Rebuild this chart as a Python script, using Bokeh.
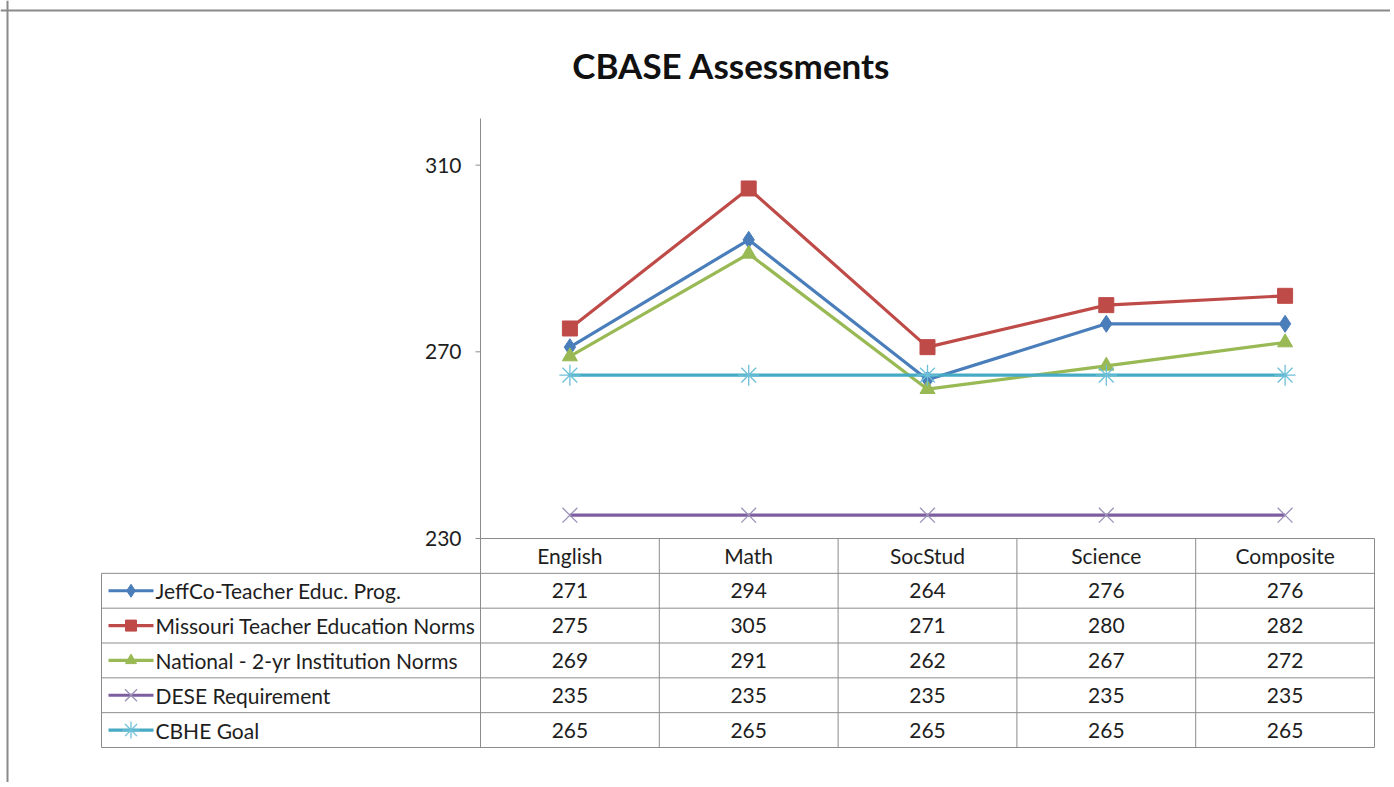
from bokeh.plotting import figure
from bokeh.models import Range1d, Span
from bokeh.core.properties import value
from bokeh.embed import file_html
from bokeh.resources import INLINE

# ---------------- data ----------------
categories = ["English", "Math", "SocStud", "Science", "Composite"]
jeffco = [271, 294, 264, 276, 276]
missouri = [275, 305, 271, 280, 282]
national = [269, 291, 262, 267, 272]
dese = [235, 235, 235, 235, 235]
cbhe = [265, 265, 265, 265, 265]
series_names = ["JeffCo-Teacher Educ. Prog.", "Missouri Teacher Education Norms",
                "National - 2-yr Institution Norms", "DESE Requirement", "CBHE Goal"]
yticks = [230, 270, 310]
title_text = "CBASE Assessments"

# ---------------- layout constants (pixels) ----------------
W, H = 1390, 782
PX0, PY0 = 0, 0
AX_PX = 480.0           # x pixel of value axis / first column edge
COL_PX = 178.8          # column width
Y230_PX = 538.0         # pixel of value 230
PX_PER_UNIT = 4.667     # pixels per score unit
TBL_BOTTOM_PX = 747.0
ROW_PX = 34.83

def xd(px):
    return (px - AX_PX) / COL_PX

def trow(py):
    return (TBL_BOTTOM_PX - py) / ROW_PX

x_range = Range1d(xd(PX0), xd(PX0 + W))
y_range = Range1d(230 - (PY0 + H - Y230_PX) / PX_PER_UNIT, 230 + (Y230_PX - PY0) / PX_PER_UNIT)

p = figure(width=W, height=H, x_range=x_range, y_range=y_range,
           output_backend="svg", toolbar_location=None,
           x_axis_location=None, y_axis_location=None,
           min_border=0, outline_line_color=None)
p.extra_y_ranges = {"tbl": Range1d(trow(PY0 + H), trow(PY0))}
p.xgrid.grid_line_color = None
p.ygrid.grid_line_color = None
p.background_fill_color = "white"
p.border_fill_color = "white"

FONT = value("Lato")
TXT = "#1e1e1e"
GRID = "#8c8c8c"
FS = "21px"

# outer chart border (left and top only visible)
p.add_layout(Span(location=xd(7), dimension="height", line_color="#8a8a8a", line_width=2))
p.add_layout(Span(location=trow(10), dimension="width", y_range_name="tbl", line_color="#8a8a8a", line_width=2))

# title
p.text(x=[xd(731)], y=[trow(64)], text=[title_text], y_range_name="tbl",
       text_font=FONT, text_font_style="bold", text_font_size="35px",
       text_align="center", text_baseline="middle", text_color="#111111")

# value axis (manual)
axis_top = 230 + (Y230_PX - 118) / PX_PER_UNIT
p.segment(x0=[0], y0=[230], x1=[0], y1=[axis_top], line_color=GRID, line_width=1)
p.segment(x0=[xd(AX_PX - 5)] * len(yticks), y0=yticks, x1=[0] * len(yticks), y1=yticks,
          line_color=GRID, line_width=1)
p.text(x=[xd(461)] * len(yticks), y=yticks, text=[str(t) for t in yticks],
       text_font=FONT, text_font_size=FS, text_align="right", text_baseline="middle",
       text_color=TXT)

# series
xs = [i + 0.5 for i in range(len(categories))]
all_series = [jeffco, missouri, national, dese, cbhe]
colors = ["#4A7EBB", "#BE4B48", "#98B954", "#7D5FA0", "#46AAC5"]
marker_specs = [
    dict(marker="diamond", size=17, fill_color="#4A7EBB", line_color="#4A7EBB", line_width=1),
    dict(marker="square", size=15, fill_color="#BE4B48", line_color="#BE4B48", line_width=1),
    dict(marker="triangle", size=15, fill_color="#98B954", line_color="#98B954", line_width=1),
    dict(marker="x", size=21, fill_color=None, line_color="#9C90B8", line_width=1.3),
    dict(marker="asterisk", size=21, fill_color=None, line_color="#6EC0D8", line_width=1.3),
]
for vals, col, ms in zip(all_series, colors, marker_specs):
    p.line(xs, vals, line_color=col, line_width=3.2)
    p.scatter(xs, vals, **ms)

# ---------------- data table ----------------
n_rows = len(series_names)
leg_left = xd(101)
for r in range(n_rows + 1):
    p.segment(x0=[leg_left], y0=[r], x1=[len(categories)], y1=[r],
              line_color=GRID, line_width=1, y_range_name="tbl")
p.segment(x0=[0], y0=[n_rows + 1], x1=[len(categories)], y1=[n_rows + 1],
          line_color=GRID, line_width=1, y_range_name="tbl")
p.segment(x0=[leg_left], y0=[0], x1=[leg_left], y1=[n_rows],
          line_color=GRID, line_width=1, y_range_name="tbl")
for c in range(len(categories) + 1):
    p.segment(x0=[c], y0=[0], x1=[c], y1=[n_rows + 1],
              line_color=GRID, line_width=1, y_range_name="tbl")

p.text(x=xs, y=[n_rows + 0.5] * len(categories), text=categories, y_range_name="tbl",
       text_font=FONT, text_font_size=FS, text_align="center", text_baseline="middle",
       text_color=TXT)
for k, (name, vals, col, ms) in enumerate(zip(series_names, all_series, colors, marker_specs)):
    yc = n_rows - 1 - k + 0.5
    p.text(x=xs, y=[yc] * len(vals), text=[str(v) for v in vals], y_range_name="tbl",
           text_font=FONT, text_font_size=FS, text_align="center", text_baseline="middle",
           text_color=TXT)
    p.text(x=[xd(155)], y=[yc], text=[name], y_range_name="tbl",
           text_font=FONT, text_font_size=FS, text_align="left", text_baseline="middle",
           text_color=TXT)
    p.line([xd(108), xd(153)], [yc, yc], line_color=col, line_width=3.2, y_range_name="tbl")
    sm = dict(ms)
    sm["size"] = sm["size"] - 4
    p.scatter([xd(130.5)], [yc], y_range_name="tbl", **sm)

open("out.html", "w").write(file_html(p, INLINE))
